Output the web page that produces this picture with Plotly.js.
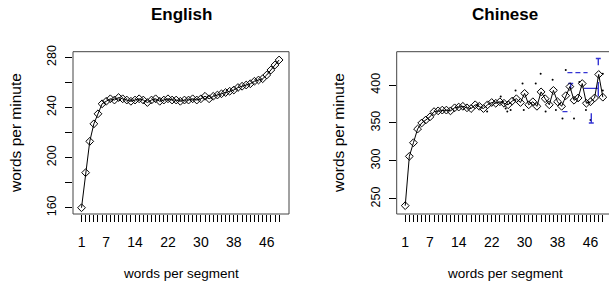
<!DOCTYPE html>
<html>
<head>
<meta charset="utf-8">
<script src="https://cdn.plot.ly/plotly-3.0.1.min.js"></script>
<style>html,body{margin:0;padding:0;background:#fff;}#chart{width:609px;height:286px;}</style>
</head>
<body>
<div id="chart"></div>
<script>
// ---- data ----
const segments = Array.from({length: 49}, (_, i) => i + 1);
const englishWpm = [160,188,213,227,235,243,245,247,246,248,247,246,245,246,247,246,244,246,247,245,
  246,247,246,246,245,246,246,247,246,247,249,247,249,250,251,252,253,254,256,257,
  258,259,261,262,263,266,270,274,278];
const chineseWpm = [241,306,324,342,350,354,358,365,366,367,367,366,370,371,372,370,369,374,372,369,
  374,377,376,378,376,374,379,382,377,389,374,378,372,391,382,374,393,378,372,386,
  398,380,383,402,376,378,383,414,384];
// scattered individual observations (Chinese)
const chineseDotsX = [18.5,20.9,24.2,24.6,25.4,25.8,26.6,27.8,29.5,29.8,32.7,33.9,35.1,36.8,37.6,39.2,40,42,43.3,44.9,46,49,49];
const chineseDotsY = [374,365,385,378,369,365,367,393,402,367,402,415,365,407,367,356,420,356,404,367,354,393,415];
// blue interval marks (Chinese)
const ciUpperX = [40.4, 45.3], ciUpperY = [416.5, 416.5];
const ciLowerX = [39.2, 41.2], ciLowerY = [365, 365];
const errX  = [41.2, 46.2, 47.9, 47.9];
const errLo = [395, 350, 385, 426];
const errHi = [402, 363, 404, 435];
const errCap = ['hi', 'lo', 'none', 'hi'];
const refLineX = [44.4, 47.9], refLineY = [395.6, 395.6];

const xTickVals = segments;
const xTickLabels = segments.map(v => [1,7,14,22,30,38,46].includes(v) ? String(v) : '');
const enTickVals = [160,180,200,220,240,260,280];
const enTickText = ['160','','200','','240','','280'];
const zhTickVals = [250,300,350,400];
const zhTickText = ['250','300','350','400'];

// ---- geometry ----
const W = 609, H = 286;
const px = v => v / W, py = v => 1 - v / H;
const boxTop = 51.7, boxBot = 214;
const enL = 73, enR = 289, zhL = 396.7, zhR = 612.7;
const xPerUnit = (enR - enL) / (51.4 + 1.07);
const xr0 = -1.07;

const blue = '#3434d4';
const seg = {x: [], y: []};
const capHalf = 0.6;
errX.forEach((x, i) => {
  seg.x.push(x, x, null); seg.y.push(errLo[i], errHi[i], null);
  if (errCap[i] === 'hi') { seg.x.push(x - capHalf, x + capHalf, null); seg.y.push(errHi[i], errHi[i], null); }
  if (errCap[i] === 'lo') { seg.x.push(x - capHalf, x + capHalf, null); seg.y.push(errLo[i], errLo[i], null); }
});

const sans = 'Liberation Sans, Arial, sans-serif';
const tickFontY = {family: sans, size: 12.5, color: '#000'};
const tickFontX = {family: sans, size: 14, color: '#000'};

const lineStyle = {color: '#000', width: 1};
const mk = {symbol: 'diamond-open', size: 6, color: '#000', line: {width: 1, color: '#000'}};

const traces = [
  {x: segments, y: englishWpm, xaxis: 'x', yaxis: 'y', mode: 'lines+markers', line: lineStyle, marker: mk, hoverinfo: 'skip'},
  {x: chineseDotsX, y: chineseDotsY, xaxis: 'x2', yaxis: 'y2', mode: 'markers', marker: {size: 2, color: '#000'}, hoverinfo: 'skip'},
  {x: ciUpperX, y: ciUpperY, xaxis: 'x2', yaxis: 'y2', mode: 'lines', line: {color: blue, width: 1.2, dash: '5px,3px'}, hoverinfo: 'skip'},
  {x: ciLowerX, y: ciLowerY, xaxis: 'x2', yaxis: 'y2', mode: 'lines', line: {color: blue, width: 1.2, dash: '5px,3px'}, hoverinfo: 'skip'},
  {x: refLineX, y: refLineY, xaxis: 'x2', yaxis: 'y2', mode: 'lines', line: {color: blue, width: 1.2}, hoverinfo: 'skip'},
  {x: seg.x, y: seg.y, xaxis: 'x2', yaxis: 'y2', mode: 'lines', line: {color: blue, width: 1.4}, hoverinfo: 'skip', connectgaps: false},
  {x: segments, y: chineseWpm, xaxis: 'x2', yaxis: 'y2', mode: 'lines+markers', line: lineStyle, marker: mk, hoverinfo: 'skip'}
];

const xCommon = {
  tickmode: 'array', tickvals: xTickVals, ticktext: xTickLabels,
  ticks: 'outside', ticklen: 7, tickwidth: 1, tickcolor: '#000',
  showgrid: false, zeroline: false, showline: false,
  tickfont: tickFontX, fixedrange: true, ticklabelstandoff: 8
};
const yCommon = {
  tickmode: 'array', ticks: 'outside', ticklen: 7, tickwidth: 1, tickcolor: '#000',
  showgrid: false, zeroline: false, showline: false, tickangle: -90,
  tickfont: tickFontY, domain: [py(boxBot), py(boxTop)], fixedrange: true, ticklabelstandoff: 4
};

const zhRightUnits = xr0 + (W - zhL) / xPerUnit;

const layout = {
  width: W, height: H, margin: {l: 0, r: 0, t: 0, b: 0},
  paper_bgcolor: '#fff', plot_bgcolor: '#fff', showlegend: false,
  xaxis: Object.assign({}, xCommon, {domain: [px(enL), px(enR)], range: [xr0, 51.4], anchor: 'y'}),
  yaxis: Object.assign({}, yCommon, {range: [155, 284.6], tickvals: enTickVals, ticktext: enTickText, anchor: 'x'}),
  xaxis2: Object.assign({}, xCommon, {domain: [px(zhL), 1], range: [xr0, zhRightUnits], anchor: 'y2'}),
  yaxis2: Object.assign({}, yCommon, {range: [230, 444], tickvals: zhTickVals, ticktext: zhTickText, anchor: 'x2'}),
  shapes: [
    {type: 'rect', xref: 'paper', yref: 'paper', x0: px(enL), x1: px(enR), y0: py(boxBot), y1: py(boxTop), line: {color: '#444', width: 1}},
    {type: 'rect', xref: 'paper', yref: 'paper', x0: px(zhL), x1: px(zhR), y0: py(boxBot), y1: py(boxTop), line: {color: '#444', width: 1}}
  ],
  annotations: [
    {text: '<b>English</b>', x: px((enL + enR) / 2), y: py(14), xref: 'paper', yref: 'paper', xanchor: 'center', yanchor: 'middle', showarrow: false, font: {family: sans, size: 17, color: '#000'}},
    {text: '<b>Chinese</b>', x: px((zhL + zhR) / 2), y: py(14), xref: 'paper', yref: 'paper', xanchor: 'center', yanchor: 'middle', showarrow: false, font: {family: sans, size: 17, color: '#000'}},
    {text: 'words per segment', x: px((enL + enR) / 2), y: py(273), xref: 'paper', yref: 'paper', xanchor: 'center', yanchor: 'middle', showarrow: false, font: {family: sans, size: 13.5, color: '#000'}},
    {text: 'words per segment', x: px((zhL + zhR) / 2), y: py(273), xref: 'paper', yref: 'paper', xanchor: 'center', yanchor: 'middle', showarrow: false, font: {family: sans, size: 13.5, color: '#000'}},
    {text: 'words per minute', x: px(15), y: py(133), xref: 'paper', yref: 'paper', xanchor: 'center', yanchor: 'middle', textangle: -90, showarrow: false, font: {family: sans, size: 15.5, color: '#000'}},
    {text: 'words per minute', x: px(338), y: py(133), xref: 'paper', yref: 'paper', xanchor: 'center', yanchor: 'middle', textangle: -90, showarrow: false, font: {family: sans, size: 15.5, color: '#000'}}
  ]
};

Plotly.newPlot('chart', traces, layout, {staticPlot: true, displayModeBar: false});
</script>
</body>
</html>
